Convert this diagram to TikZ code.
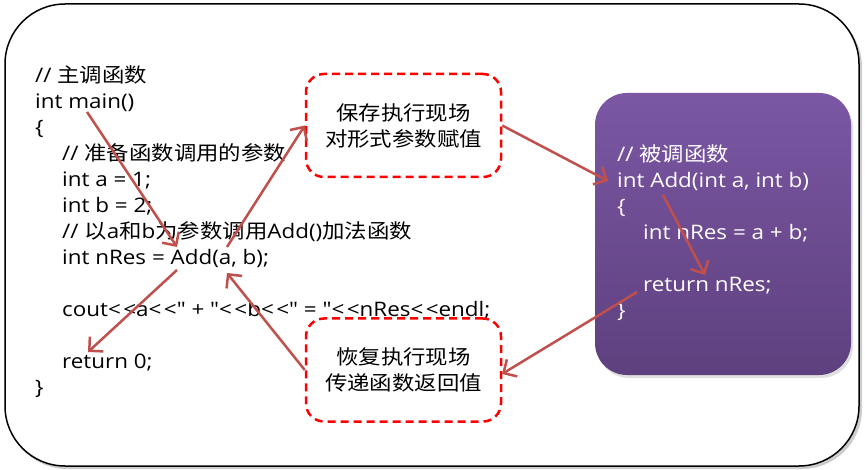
\documentclass[tikz,border=0pt]{standalone}
\usepackage{fontspec}
\setmainfont{Open Sans}[FakeStretch=1.12, Ligatures=TeXOff]
\newfontfamily\cjk{Noto Sans CJK SC}[FakeStretch=1.12]
\usetikzlibrary{arrows.meta,shadows}
\definecolor{arrowred}{RGB}{192,80,77}
\definecolor{ptop}{RGB}{123,87,164}
\definecolor{pbot}{RGB}{94,64,126}
\definecolor{dashred}{RGB}{255,0,0}
\newcommand{\myqq}{\symbol{34}}
\newcommand{\myll}{<\kern2.5pt<}
\tikzset{
  codeline/.style={anchor=west, inner sep=0pt, font=\fontsize{20}{26}\selectfont, text height=15pt, text depth=5pt},
  whiteline/.style={codeline, text=white},
  dashbox/.style={draw=dashred, line width=2.5pt, dash pattern=on 8pt off 5pt, rounded corners=18pt,
    minimum width=195pt, minimum height=103pt, align=center, inner sep=0pt,
    font=\fontsize{20}{26}\selectfont\cjk},
  purplebox/.style={rounded corners=32pt, top color=ptop, bottom color=pbot, draw=none,
    minimum width=256pt, minimum height=282pt, inner sep=0pt,
    drop shadow={opacity=0.25, shadow xshift=2pt, shadow yshift=-3pt}},
  conn/.style={draw=arrowred, line width=2.5pt, -{Straight Barb[length=10pt,width=20pt]}},
}
\begin{document}
\begin{tikzpicture}[x=1pt,y=-1pt]
\useasboundingbox (0,0) rectangle (865,470);
% outer frame
\fill[gray!40, rounded corners=60pt] (7,7) rectangle (862,469);
\draw[fill=white, line width=1.5pt, rounded corners=60pt] (5,4) rectangle (859,466);

% left code
\node[codeline] (m1) at (35,78) {// {\cjk 主调函数}};
\node[codeline] (m2) at (35,104) {int main()};
\node[codeline] (m3) at (35,130) {\{};
\node[codeline] (m4) at (62,156) {// {\cjk 准备函数调用的参数}};
\node[codeline] (m5) at (62,182) {int a = 1;};
\node[codeline] (m6) at (62,208) {int b = 2;};
\node[codeline] (m7) at (62,234) {// {\cjk 以}a{\cjk 和}b{\cjk 为参数调用}Add(){\cjk 加法函数}};
\node[codeline] (m8) at (62,260) {int nRes = Add(a, b);};
\node[codeline] (m9) at (62,312) {cout\myll a\myll\myqq{} + \myqq\myll b\myll\myqq{} = \myqq\myll nRes\myll endl;};
\node[codeline] (m10) at (62,364) {return 0;};
\node[codeline] (m11) at (35,390) {\}};

% dashed boxes
\node[dashbox] (save) at (403.5,125.5) {保存执行现场\\对形式参数赋值};
\node[dashbox] (restore) at (403.5,370) {恢复执行现场\\传递函数返回值};

% callee box
\node[purplebox] (callee) at (723,234) {};
\node[whiteline] (c1) at (617,157) {// {\cjk 被调函数}};
\node[whiteline] (c2) at (617,183) {int Add(int a, int b)};
\node[whiteline] (c3) at (617,209) {\{};
\node[whiteline] (c4) at (643,235) {int nRes = a + b;};
\node[whiteline] (c5) at (643,287) {return nRes;};
\node[whiteline] (c6) at (617,313) {\}};

% connector end points
\coordinate (pMain) at (87,112);
\coordinate (pAddTop) at (177,247);
\coordinate (pAddBot) at (177,270);
\coordinate (pRet0) at (88,352);
\coordinate (pCallUp) at (227,247);
\coordinate (pArgs) at (227,273);
\coordinate (pAddIn) at (608,181);
\coordinate (pSum) at (663,195);
\coordinate (pRetN) at (705,275);
\coordinate (pRetOut) at (637,292);
\coordinate (pRestIn) at (502,374);

\draw[conn] (pMain) -- (pAddTop);
\draw[conn] (pAddBot) -- (pRet0);
\draw[conn] (pCallUp) -- (save.west);
\draw[conn] (restore.west) -- (pArgs);
\draw[conn] (save.east) -- (pAddIn);
\draw[conn] (pSum) -- (pRetN);
\draw[conn] (pRetOut) -- (pRestIn);
\end{tikzpicture}
\end{document}
